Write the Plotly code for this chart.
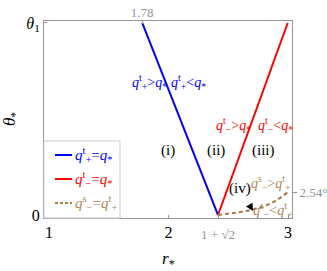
import math
import plotly.graph_objects as go

# ---- data ----
theta1 = 21.2                      # value of theta_1 on the theta_* axis (deg, estimated)
r_vertex = 1 + math.sqrt(2)        # 1 + sqrt(2)
r_top = 1.78

blue_r = [r_top, r_vertex]
blue_theta = [theta1, 0.0]

red_r = [r_vertex, 2.997]
red_theta = [0.0, theta1]

brown_r = [r_vertex, 2.5, 2.6, 2.7, 2.8, 2.9, 3.0]
brown_theta = [0.0, 0.15, 0.33, 0.6, 0.98, 1.6, 2.54]

x_ticks = [1, 2, 3]
x_ticklabels = ["1", "2", "3"]
y_ticks = [0, theta1]
y_ticklabels = ["0", "<i>θ</i><sub>1</sub>"]
top_ticks = [r_top]
top_ticklabels = ["1.78"]
bottom_extra_ticks = [r_vertex]
bottom_extra_ticklabels = ["1 + √2"]
right_ticks = [2.54]
right_ticklabels = ["2.54°"]

legend_names = [
    "<i>q</i><sup>t</sup><sub>+</sub>=<i>q</i><sub>*</sub>",
    "<i>q</i><sup>t</sup><sub>−</sub>=<i>q</i><sub>*</sub>",
    "<i>q</i><sup>s</sup><sub>−</sub>=<i>q</i><sup>t</sup><sub>+</sub>",
]

BLUE = "rgb(0,0,255)"
RED = "rgb(255,0,0)"
BROWN = "rgb(165,122,72)"
BROWN_TXT = "rgb(175,135,88)"
GRAY = "rgb(150,150,150)"
FONT = "'Liberation Serif', 'Times New Roman', serif"

W, H = 327, 271
ML, MR, MT, MB = 44, 35, 21, 53
PW, PH = W - ML - MR, H - MT - MB

def px2paper(px, py):
    return (px - ML) / PW, (H - MB - py) / PH

xr = [0.958, 3.033]
yr = [-0.33, 21.42]

fig = go.Figure()
fig.add_trace(go.Scatter(x=blue_r, y=blue_theta, mode="lines",
                         line=dict(color=BLUE, width=2), name=legend_names[0], showlegend=False))
fig.add_trace(go.Scatter(x=red_r, y=red_theta, mode="lines",
                         line=dict(color=RED, width=2), name=legend_names[1], showlegend=False))
fig.add_trace(go.Scatter(x=brown_r, y=brown_theta, mode="lines",
                         line=dict(color=BROWN, width=2, dash="4px,3px", shape="spline"),
                         name=legend_names[2], showlegend=False))

# invisible helpers so the secondary axes are drawn
fig.add_trace(go.Scatter(x=top_ticks, y=[theta1], xaxis="x2", yaxis="y", mode="markers",
                         marker=dict(opacity=0), showlegend=False, hoverinfo="skip"))
fig.add_trace(go.Scatter(x=bottom_extra_ticks, y=[0], xaxis="x3", yaxis="y", mode="markers",
                         marker=dict(opacity=0), showlegend=False, hoverinfo="skip"))
fig.add_trace(go.Scatter(x=[3.0], y=right_ticks, xaxis="x", yaxis="y2", mode="markers",
                         marker=dict(opacity=0), showlegend=False, hoverinfo="skip"))

axis_common = dict(showgrid=False, zeroline=False, ticks="inside", ticklen=3,
                   tickcolor=GRAY, tickwidth=1, automargin=False)

fig.update_layout(
    width=W, height=H,
    margin=dict(l=ML, r=MR, t=MT, b=MB, autoexpand=False),
    paper_bgcolor="white", plot_bgcolor="white",
    font=dict(family=FONT, size=15, color="black"),
    showlegend=False,
    xaxis=dict(range=xr, tickvals=x_ticks, ticktext=x_ticklabels, showline=True,
               linecolor=GRAY, linewidth=1, mirror=True,
               tickfont=dict(family=FONT, size=16, color="black"), **axis_common),
    xaxis2=dict(range=xr, overlaying="x", side="top", anchor="y", tickvals=top_ticks,
                ticktext=top_ticklabels, showline=False,
                tickfont=dict(family=FONT, size=13, color=GRAY), **axis_common),
    xaxis3=dict(range=xr, overlaying="x", side="bottom", anchor="y", tickvals=bottom_extra_ticks,
                ticktext=bottom_extra_ticklabels, showline=False, ticklabelstandoff=7,
                tickfont=dict(family=FONT, size=13, color=GRAY), **axis_common),
    yaxis=dict(range=yr, tickvals=y_ticks, ticktext=y_ticklabels, showline=True,
               linecolor=GRAY, linewidth=1, mirror=True,
               tickfont=dict(family=FONT, size=16, color="black"), **axis_common),
    yaxis2=dict(range=yr, overlaying="y", side="right", anchor="x", tickvals=right_ticks,
                ticktext=right_ticklabels, showline=False, showgrid=False, zeroline=False,
                ticks="outside", ticklen=4, tickcolor=GRAY, automargin=False,
                tickfont=dict(family=FONT, size=13, color=GRAY)),
)

ann = []
def txt(x, y, s, color, size=14):
    ann.append(dict(x=x, y=y, xref="x", yref="y", text=s, showarrow=False,
                    xanchor="center", yanchor="middle",
                    font=dict(family=FONT, size=size, color=color)))

txt(1.837, 14.68, "<i>q</i><sup>t</sup><sub>+</sub>&gt;<i>q</i><sub>*</sub>", BLUE)
txt(2.163, 14.68, "<i>q</i><sup>t</sup><sub>+</sub>&lt;<i>q</i><sub>*</sub>", BLUE)
txt(2.54, 9.94, "<i>q</i><sup>t</sup><sub>−</sub>&gt;<i>q</i><sub>*</sub>", RED)
txt(2.891, 9.94, "<i>q</i><sup>t</sup><sub>−</sub>&lt;<i>q</i><sub>*</sub>", RED)
txt(1.996, 7.07, "(i)", "black", 15)
txt(2.397, 7.07, "(ii)", "black", 15)
txt(2.791, 7.07, "(iii)", "black", 15)
txt(2.858, 3.53, "<i>q</i><sup>s</sup><sub>−</sub>&gt;<i>q</i><sup>t</sup><sub>+</sub>", BROWN_TXT)
txt(2.874, 0.55, "<i>q</i><sup>s</sup><sub>−</sub>&lt;<i>q</i><sup>t</sup><sub>+</sub>", BROWN_TXT)
ann.append(dict(x=2.707, y=0.44, ax=2.598, ay=2.9, xref="x", yref="y", axref="x", ayref="y",
                text="(iv)", showarrow=True, arrowhead=2, arrowsize=1, arrowwidth=1.5,
                arrowcolor="black", standoff=0, startstandoff=8,
                font=dict(family=FONT, size=15, color="black")))

# axis titles
tx, ty = px2paper(11, 119)
ann.append(dict(x=tx, y=ty, xref="paper", yref="paper", text="<i>θ</i><sub>*</sub>",
                xanchor="center", yanchor="middle",
                showarrow=False, textangle=-90, font=dict(family=FONT, size=17, color="black")))
tx, ty = px2paper(168, 260)
ann.append(dict(x=tx, y=ty, xref="paper", yref="paper", text="<i>r</i><sub>*</sub>",
                xanchor="center", yanchor="middle",
                showarrow=False, font=dict(family=FONT, size=17, color="black")))

# manual legend (box, short line samples, coloured labels)
shapes = []
bx0, by0 = px2paper(44, 218)
bx1, by1 = px2paper(120, 141)
shapes.append(dict(type="rect", xref="paper", yref="paper", x0=bx0, y0=by0, x1=bx1, y1=by1,
                   line=dict(color="rgb(205,205,205)", width=1), fillcolor="white", layer="above"))
legend_colors = [BLUE, RED, BROWN]
legend_text_colors = [BLUE, RED, BROWN_TXT]
legend_dash = ["solid", "solid", "3px,2px"]
for i, (nm, c, tc, d) in enumerate(zip(legend_names, legend_colors, legend_text_colors, legend_dash)):
    yy = 155 + 24 * i
    lx0, ly = px2paper(55, yy)
    lx1, _ = px2paper(72, yy)
    shapes.append(dict(type="line", xref="paper", yref="paper", x0=lx0, x1=lx1, y0=ly, y1=ly,
                       line=dict(color=c, width=2, dash=d), layer="above"))
    ax_, _ = px2paper(73, yy)
    ann.append(dict(x=ax_, y=ly, xref="paper", yref="paper", xanchor="left", yanchor="middle",
                    text=nm, showarrow=False, font=dict(family=FONT, size=15, color=tc)))

fig.update_layout(annotations=ann, shapes=shapes)

fig.write_html("out.html", config={"displayModeBar": False},
               post_script="document.body.style.margin='0';document.body.style.padding='0';"
                           "document.body.style.overflow='hidden';")
